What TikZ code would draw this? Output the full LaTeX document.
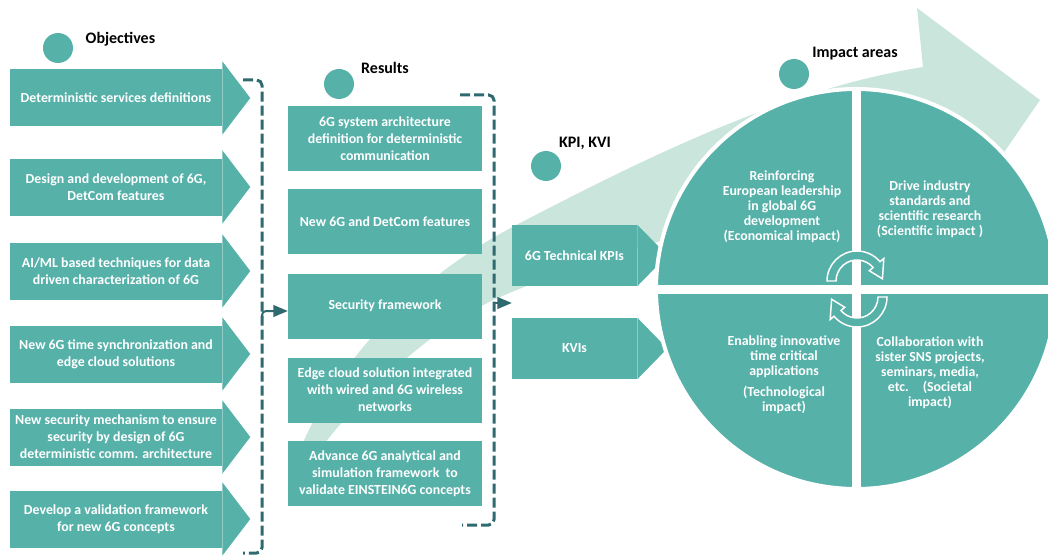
\documentclass[tikz,border=0pt]{standalone}
\usepackage{fontspec}
\setmainfont{Carlito}
\usetikzlibrary{arrows, calc}

\definecolor{tealfill}{HTML}{56B1A9}
\definecolor{mintband}{HTML}{C9E5DC}
\definecolor{darkdash}{HTML}{2E6A6F}

\tikzset{
  card/.style={fill=tealfill, text=white, inner sep=0pt, align=center,
    font=\bfseries\fontsize{10.4}{12.8}\selectfont},
  objbox/.style={card, minimum width=159pt, minimum height=42.75pt},
  resbox/.style={card, minimum width=145.5pt, minimum height=48.75pt},
  kpibox/.style={card, minimum width=93.75pt, minimum height=45.75pt},
  quadtext/.style={text=white, align=center, font=\bfseries\fontsize{10.4}{11.3}\selectfont},
  headdot/.style={circle, fill=tealfill, minimum size=22.5pt, inner sep=0pt},
  heading/.style={font=\bfseries\fontsize{12}{14}\selectfont},
  bracket/.style={darkdash, line width=2.25pt, dash pattern=on 7.5pt off 3pt, rounded corners=4pt},
  link/.style={darkdash, line width=1.5pt, -triangle 45},
  cyclearrow/.style={fill=tealfill, draw=white, line width=1.1pt},
}

\begin{document}
\begin{tikzpicture}[x=0.75pt, y=-0.75pt]
\useasboundingbox (0,0) rectangle (1048,556);

% swoosh in the background
\fill[mintband] (292,470) .. controls (320,390) and (390,290) .. (520,223)
  .. controls (640,161) and (780,90) .. (923,67) -- (917,8) -- (1040,100)
  -- (941,244) -- (935,185) .. controls (820,195) and (620,245) .. (500,297)
  .. controls (440,323) and (360,390) .. (305,470) -- cycle;

\node[kpibox] (k1) at (574.5,255.5) {6G Technical KPIs};
\node[kpibox] (k2) at (574.5,348.5) {KVIs};
\foreach \k in {k1,k2}
  \fill[tealfill] (\k.north east) -- ($(\k.east)+(30,0)$) -- (\k.south east) -- cycle;

% impact wheel
\node[circle, fill=tealfill, draw=white, line width=3pt, minimum size=300pt, inner sep=0pt] (imp) at (856,289) {};
\draw[white, line width=6.75pt] (imp.north) -- (imp.south) (imp.west) -- (imp.east);

\node[quadtext] (q1) at (782,207) {Reinforcing\\European leadership\\in global 6G\\development\\(Economical impact)};
\node[quadtext] (q2) at (930,209.5) {Drive industry\\standards and\\scientific research\\(Scientific impact )};
\node[quadtext] (q3) at (784,375) {Enabling innovative\\time critical\\applications\\[4.5pt](Technological\\impact)};
\node[quadtext] (q4) at (930,373) {Collaboration with\\sister SNS projects,\\seminars, media,\\etc.\quad(Societal\\impact)};

\filldraw[cyclearrow, shift={(857,281)}] (180:30) arc[start angle=180, end angle=320, radius=30]
  -- (320:35) -- (355:25.5) -- (320:16) -- (320:21) arc[start angle=320, end angle=180, radius=21] -- cycle;
\filldraw[cyclearrow, shift={(857,297)}] (0:30) arc[start angle=0, end angle=140, radius=30]
  -- (140:35) -- (175:25.5) -- (140:16) -- (140:21) arc[start angle=140, end angle=0, radius=21] -- cycle;

% objectives
\foreach \y/\txt [count=\i] in {98/{Deterministic services definitions},
    187/{Design and development of 6G,\\DetCom features},
    271/{AI/ML based techniques for data\\driven characterization of 6G},
    354/{New 6G time synchronization and\\edge cloud solutions},
    437/{New security mechanism to ensure\\security by design of 6G\\deterministic comm. architecture},
    519/{Develop a validation framework\\for new 6G concepts}}{
  \node[objbox] (o\i) at (116,\y) {\txt};
  \fill[tealfill] (o\i.north east) -- ++(0,-8) -- ($(o\i.east)+(28,0)$)
    -- ($(o\i.south east)+(0,8)$) -- (o\i.south east) -- cycle;
}

% results
\foreach \y/\txt [count=\i] in {138.5/{6G system architecture\\definition for deterministic\\communication},
    221.5/{New 6G and DetCom features},
    306/{Security framework},
    390/{Edge cloud solution integrated\\with wired and 6G wireless\\networks},
    473.5/{Advance 6G analytical and\\simulation framework\ \ to\\validate EINSTEIN6G concepts}}{
  \node[resbox] (r\i) at (385,\y) {\txt};
}

\draw[bracket] (243,80) -- (262,80) -- (262,553) -- (243,553);
\draw[bracket] (460,95) -- (494,95) -- (494,525) -- (462,525);

\coordinate (lb) at (262,318);
\coordinate (lbt) at (262,311);
\coordinate (rb) at (494,303);
\draw[link, rounded corners=3pt] (lb) |- (lbt -| r3.west);
\draw[link] (rb) -- (rb -| k1.west);

\node[headdot] (d1) at (58,48) {};
\node[heading, anchor=west] (h1) at (81,39) {Objectives};
\node[headdot] (d2) at (339,84) {};
\node[heading] (h2) at (385,68) {Results};
\node[headdot] (d3) at (546,166) {};
\node[heading] (h3) at (585,143) {KPI, KVI};
\node[headdot] (d4) at (794,74) {};
\node[heading] (h4) at (855,54) {Impact areas};
\end{tikzpicture}
\end{document}
